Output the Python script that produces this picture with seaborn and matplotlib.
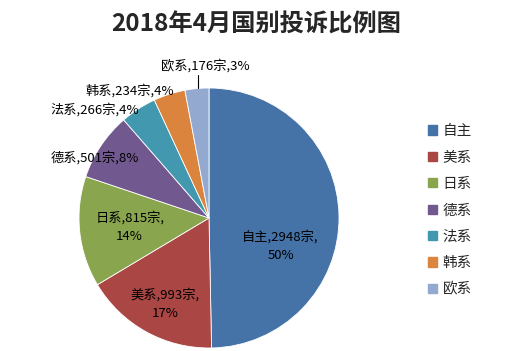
import matplotlib
matplotlib.use("Agg")
import matplotlib.pyplot as plt
import matplotlib.patches as mpatches
import seaborn as sns

# Data
brands = ["自主", "美系", "日系", "德系", "法系", "韩系", "欧系"]
counts = [2948, 993, 815, 501, 266, 234, 176]
percents = [50, 17, 14, 8, 4, 4, 3]
colors = ["#4572A7", "#AA4643", "#89A54E", "#71588F", "#4198AF", "#DB843D", "#93A9CF"]

sns.set_theme(style="white")
plt.rcParams["font.family"] = ["Noto Sans CJK SC", "DejaVu Sans"]

fig = plt.figure(figsize=(5.17, 3.51), dpi=100)
ax = fig.add_axes([79 / 517, 3 / 351, 260 / 517, 260 / 351])
pal = sns.color_palette(colors)
wedges, _ = ax.pie(counts, colors=pal, startangle=90, counterclock=False,
                   wedgeprops=dict(edgecolor="white", linewidth=0.6))
ax.set_xlim(-1, 1)
ax.set_ylim(-1, 1)

# Label positions (relative to pie radius)
label_pos = [(0.55, -0.215), (-0.34, -0.66), (-0.61, -0.07), (-0.88, 0.46),
             (-0.88, 0.83), (-0.61, 0.98), (-0.03, 1.17)]
two_line = [True, True, True, False, False, False, False]
for i, (x, y) in enumerate(label_pos):
    if two_line[i]:
        txt = f"{brands[i]},{counts[i]}宗,\n{percents[i]}%"
    else:
        txt = f"{brands[i]},{counts[i]}宗,{percents[i]}%"
    ax.text(x, y, txt, ha="center", va="center", fontsize=9.5, color="black",
            linespacing=1.6, clip_on=False)

# leader line for the small slice
ax.plot([-0.085, -0.085], [1.0, 1.1], color="black", linewidth=0.8, clip_on=False)

fig.suptitle("2018年4月国别投诉比例图", x=256 / 517, y=1 - 25 / 351, va="center",
             fontsize=17.5, fontweight="bold")

handles = [mpatches.Patch(color=c, label=b) for c, b in zip(pal, brands)]
fig.legend(handles=handles, loc="upper left", bbox_to_anchor=(415 / 517, 1 - 111 / 351),
           frameon=False, fontsize=10.5, handlelength=0.6, handleheight=0.6,
           handletextpad=0.4, labelspacing=0.85)

fig.savefig("out.png", dpi=100)
